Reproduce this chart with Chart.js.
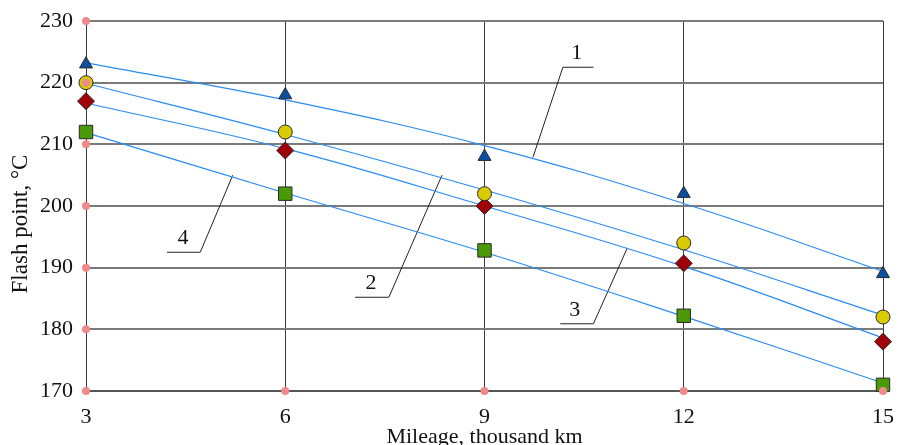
<!DOCTYPE html>
<html><head><meta charset="utf-8">
<script src="https://cdn.jsdelivr.net/npm/chart.js@4/dist/chart.umd.min.js"></script>
<style>html,body{margin:0;padding:0;background:#fff}#wrap{width:899px;height:445px}</style>
</head><body><div id="wrap"><canvas id="c"></canvas></div>
<script>
// Data
const mileage = [3, 6, 9, 12, 15];
const triangles = [223, 218, 208, 202, 189];
const circles = [220, 212, 202, 194, 182];
const diamonds = [217, 209, 200, 190.7, 178];
const squares = [212, 202, 192.8, 182.2, 171];
const curve1 = [223.2, 217.2, 209.8, 200.4, 189.4];
const curve2 = [219.9, 211.6, 202.6, 192.9, 182.3];
const curve3 = [216.7, 209.3, 200.0, 190.2, 178.6];
const curve4 = [211.9, 202.1, 192.5, 182.1, 171.3];
const yTicks = [170, 180, 190, 200, 210, 220, 230];
const xTicks = [3, 6, 9, 12, 15];
const xTitle = 'Mileage, thousand km';
const yTitle = 'Flash point, °C';
// curve labels: [text, textX, textY, leftX, rightX, shelfY, targetX, targetY, attachSide]
const curveLabels = [
  ['1', 10.39, 224.8, 10.18, 10.64, 222.5, 9.73, 207.9, 'left'],
  ['2', 7.29, 187.5, 7.05, 7.56, 185.2, 8.36, 205.0, 'right'],
  ['3', 10.36, 183.1, 10.14, 10.64, 180.9, 11.15, 193.2, 'right'],
  ['4', 4.46, 194.8, 4.22, 4.72, 192.5, 5.21, 205.0, 'right']
];

const pts = ys => mileage.map((x, i) => ({x, y: ys[i]}));
const curveDs = ys => ({type:'line', data: pts(ys), showLine:true, borderColor:'#2a8cf0', borderWidth:1.2, pointRadius:0, tension:0.4, fill:false, order:5, clip:false});
const markerDs = (ys, style, bg, r) => ({data: pts(ys), showLine:false, pointStyle:style, backgroundColor:bg, borderColor:'#2a2a2a', borderWidth:1, pointRadius:r, order:2, clip:false});
const leaderPts = l => {
  const left = {x:l[3], y:l[5]}, right = {x:l[4], y:l[5]}, t = {x:l[6], y:l[7]};
  return l[8] === 'left' ? [right, left, t] : [left, right, t];
};
const leaders = curveLabels.map(l => ({type:'line', data: leaderPts(l), showLine:true, borderColor:'#222', borderWidth:1, pointRadius:0, tension:0, order:6}));
const tickDots = [...yTicks.map(y => ({x:3, y})), ...xTicks.slice(1).map(x => ({x, y:170}))];

const serif = '"Liberation Serif", serif';
const labelPlugin = {
  id:'curveLabels',
  afterDatasetsDraw(chart) {
    const {ctx, scales:{x, y}} = chart;
    ctx.save();
    ctx.font = '22px ' + serif;
    ctx.fillStyle = '#111';
    ctx.textAlign = 'center';
    ctx.textBaseline = 'middle';
    curveLabels.forEach(l => ctx.fillText(l[0], x.getPixelForValue(l[1]), y.getPixelForValue(l[2])));
    // y axis title
    ctx.translate(21, 224);
    ctx.rotate(-Math.PI / 2);
    ctx.font = '23px ' + serif;
    ctx.fillText(yTitle, 0, 0);
    ctx.restore();
  }
};

new Chart(document.getElementById('c'), {
  type:'scatter',
  data:{datasets:[
    curveDs(curve1), curveDs(curve2), curveDs(curve3), curveDs(curve4),
    ...leaders,
    markerDs(triangles, 'triangle', '#0a4fa0', 7.5),
    markerDs(circles, 'circle', '#d8cc00', 7),
    markerDs(diamonds, 'rectRot', '#a00008', 8.5),
    markerDs(squares, 'rect', '#4a9a08', 9.5),
    {data: tickDots, showLine:false, pointStyle:'circle', backgroundColor:'#f08a8a', borderWidth:0, pointRadius:4, order:1, clip:false}
  ]},
  options:{
    responsive:true, maintainAspectRatio:false, animation:false,
    layout:{padding:{top:21, right:16, left:0, bottom:0}},
    plugins:{legend:{display:false}, tooltip:{enabled:false}},
    scales:{
      x:{type:'linear', min:3, max:15,
        afterBuildTicks: s => { s.ticks = xTicks.map(v => ({value:v})); },
        afterFit: s => { s.height = 54; s.paddingLeft = 0; s.paddingRight = 0; },
        grid:{color:'#3a3a3a', lineWidth:1, drawTicks:false},
        border:{color:'#555', width:2},
        ticks:{padding:13, color:'#111', font:{family:serif, size:22}},
        title:{display:true, text:xTitle, color:'#111', padding:{top:0, bottom:-5}, font:{family:serif, size:22}}
      },
      y:{min:170, max:230,
        afterBuildTicks: s => { s.ticks = yTicks.map(v => ({value:v})); },
        afterFit: s => { s.width = 86; s.paddingTop = 0; s.paddingBottom = 0; },
        grid:{color:'#7a7a7a', lineWidth:2, drawTicks:false},
        border:{color:'#3a3a3a', width:1},
        ticks:{padding:13, color:'#111', font:{family:serif, size:22}}
      }
    }
  },
  plugins:[labelPlugin]
});
</script></body></html>
